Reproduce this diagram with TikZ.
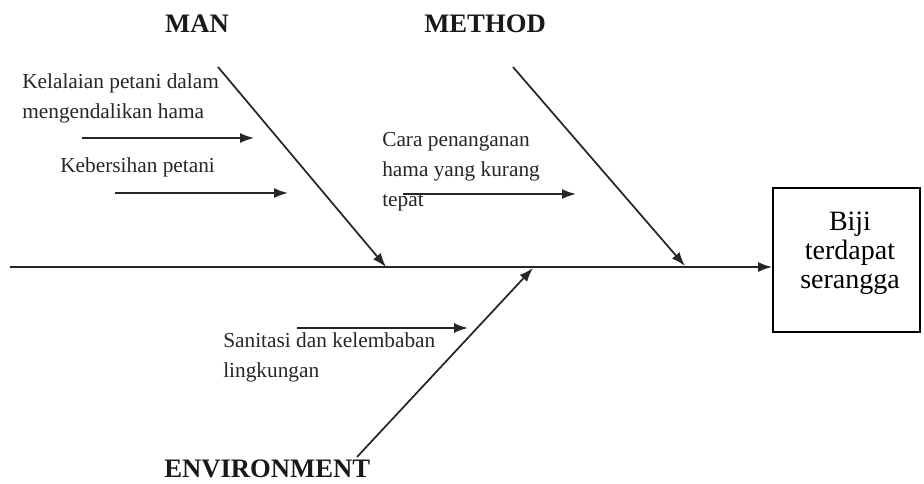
\documentclass[tikz,border=0pt]{standalone}
\usepackage{fontspec}
\setmainfont{Liberation Serif}
\usetikzlibrary{arrows.meta}
\begin{document}
\begin{tikzpicture}[x=0.75pt,y=-0.75pt,
  line/.style={line width=1.3pt,draw=black!85},
  arr/.style={line, -{Latex[length=10.5pt,width=7.5pt]}},
  lbl/.style={font=\fontsize{16}{22.5}\selectfont, align=left, inner sep=0pt, text=black!85},
  ttl/.style={font=\fontsize{20}{24}\selectfont\bfseries, inner sep=0pt, text=black!90},
  effect/.style={draw=black, line width=1.3pt, minimum width=147*0.75pt, minimum height=144*0.75pt, inner sep=0pt}]
\useasboundingbox (0,0) rectangle (924,483);
% effect box
\node[effect] (box) at (846.5,260) {};
\node[font=\fontsize{21}{21.75}\selectfont, align=center, inner sep=0pt] (boxtxt) at (850,253) {Biji\\terdapat\\serangga};
% spine
\coordinate (s0) at (10,267);
\draw[arr] (s0) -- (box.west |- s0);
% bones
\coordinate (manS) at (218,67);
\coordinate (manE) at (386,267);
\coordinate (metS) at (513,67);
\coordinate (metE) at (685,266);
\coordinate (envS) at (357,457);
\coordinate (envE) at (533,268);
\draw[arr] (manS) -- (manE);
\draw[arr] (metS) -- (metE);
\draw[arr] (envS) -- (envE);
% titles
\node[ttl] (man) at (197,24) {MAN};
\node[ttl] (met) at (485,24) {METHOD};
\node[ttl, anchor=west] (env) at (164,469) {ENVIRONMENT};
% labels
\node[lbl, anchor=west] (l1) at (22,98) {Kelalaian petani dalam\\mengendalikan hama};
\node[lbl, anchor=west] (l2) at (60,167) {Kebersihan petani};
\node[lbl, anchor=west] (l3) at (382,172) {Cara penanganan\\hama yang kurang\\tepat};
\node[lbl, anchor=west] (l4) at (223,357) {Sanitasi dan kelembaban\\lingkungan};
% sub arrows
\coordinate (a1s) at (82,138); \coordinate (a1e) at (254,138);
\coordinate (a2s) at (115,193); \coordinate (a2e) at (288,193);
\coordinate (a3s) at (403,194); \coordinate (a3e) at (576,194);
\coordinate (a4s) at (297,328); \coordinate (a4e) at (468,328);
\draw[arr] (a1s) -- (a1e);
\draw[arr] (a2s) -- (a2e);
\draw[arr] (a3s) -- (a3e);
\draw[arr] (a4s) -- (a4e);
\end{tikzpicture}
\end{document}
